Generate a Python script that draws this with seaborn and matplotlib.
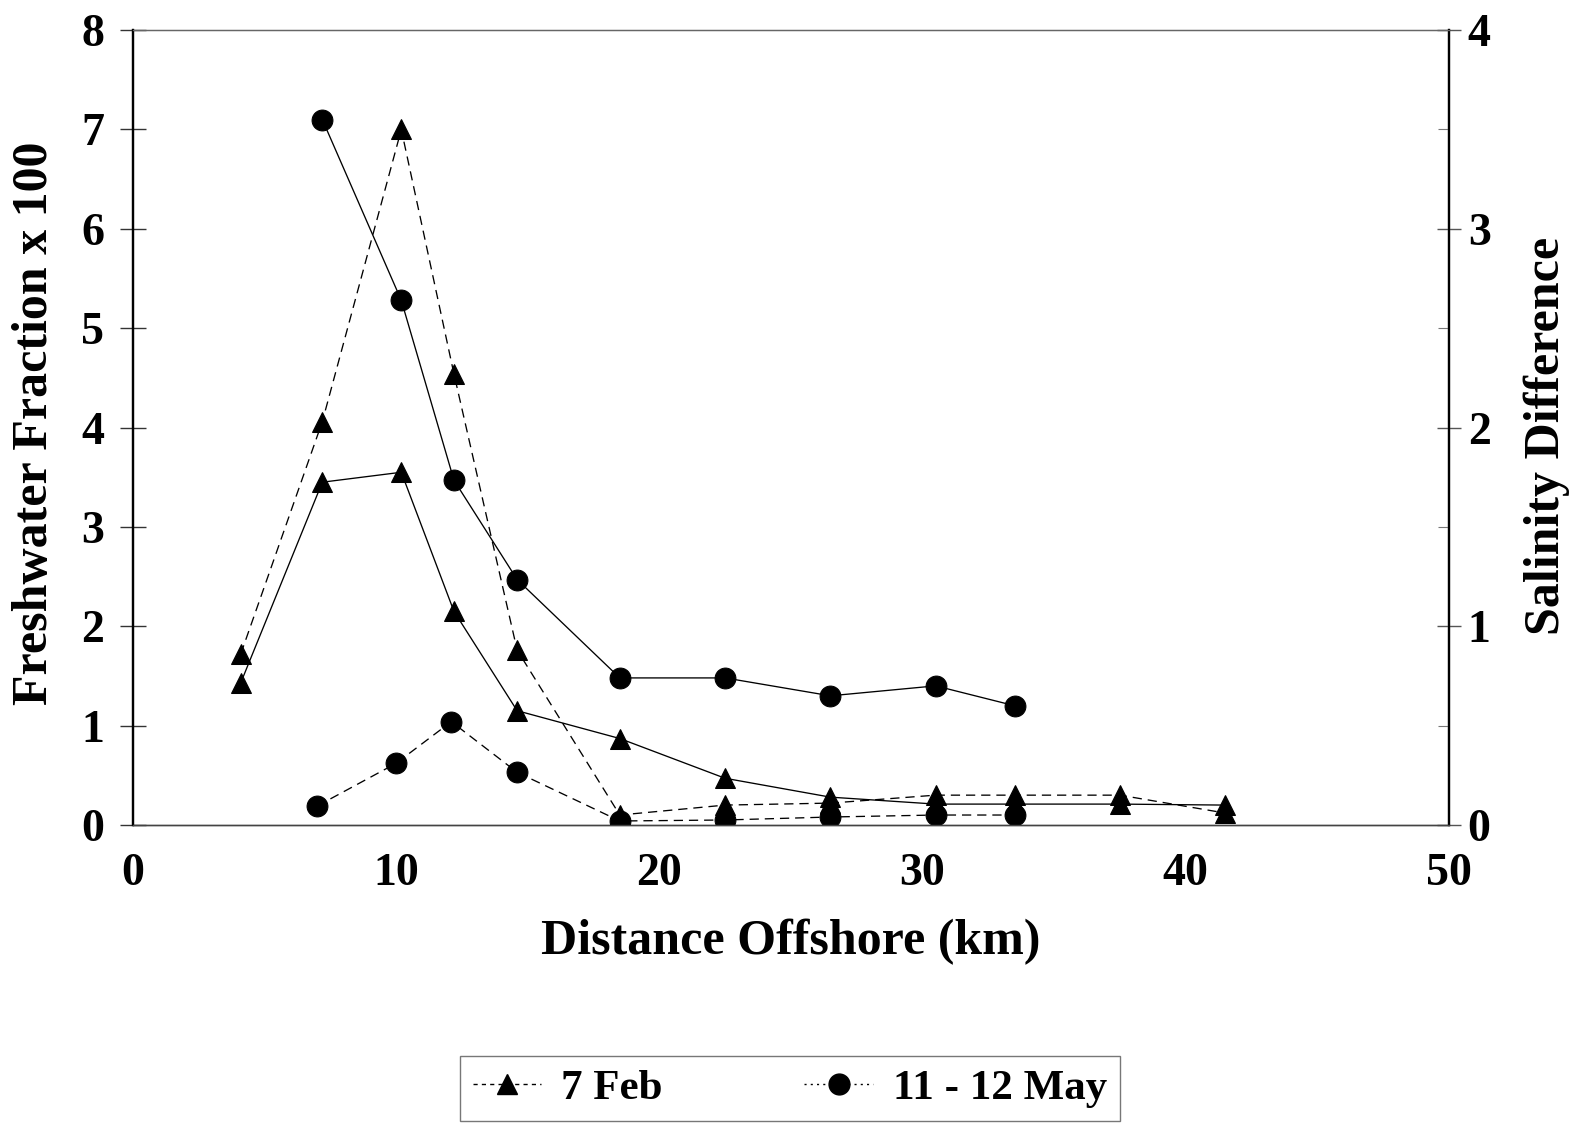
import matplotlib
matplotlib.use("Agg")
import matplotlib.pyplot as plt
from matplotlib.lines import Line2D
from matplotlib.ticker import MultipleLocator
import seaborn as sns
import pandas as pd

# ---- data ----
feb_x = [4.1, 7.2, 10.2, 12.2, 14.6, 18.5, 22.5, 26.5, 30.5, 33.5, 37.5, 41.5]
feb_fresh = [1.43, 3.45, 3.55, 2.15, 1.15, 0.87, 0.47, 0.28, 0.21, 0.21, 0.21, 0.20]
feb_sal = [0.86, 2.03, 3.50, 2.27, 0.88, 0.05, 0.10, 0.11, 0.15, 0.15, 0.15, 0.06]

may_x = [7.2, 10.2, 12.2, 14.6, 18.5, 22.5, 26.5, 30.5, 33.5]
may_fresh = [7.10, 5.28, 3.47, 2.47, 1.48, 1.48, 1.30, 1.40, 1.20]
may_sal_x = [7.0, 10.0, 12.1, 14.6, 18.5, 22.5, 26.5, 30.5, 33.5]
may_sal = [0.095, 0.31, 0.52, 0.265, 0.02, 0.025, 0.04, 0.05, 0.05]

legend_labels = ["7 Feb", "11 - 12 May"]
x_ticks = [0, 10, 20, 30, 40, 50]

sns.set_style("white")
plt.rcParams["font.family"] = ["Liberation Serif", "DejaVu Serif"]
plt.rcParams["font.weight"] = "bold"
plt.rcParams["text.color"] = "black"
plt.rcParams["axes.labelcolor"] = "black"
plt.rcParams["xtick.labelcolor"] = "black"
plt.rcParams["ytick.labelcolor"] = "black"

fig = plt.figure(figsize=(15.81, 11.29), dpi=100)
ax = fig.add_axes([0.084, 0.2693, 0.8325, 0.704])
ax2 = ax.twinx()

df_feb = pd.DataFrame({"x": feb_x, "fresh": feb_fresh, "sal": feb_sal})
df_may = pd.DataFrame({"x": may_x, "fresh": may_fresh})
df_may_s = pd.DataFrame({"x": may_sal_x, "sal": may_sal})

lw = 0.95
ms_t = 15
ms_c = 15
sns.lineplot(data=df_feb, x="x", y="fresh", ax=ax, estimator=None, sort=False,
             color="black", linewidth=lw, marker="^", markersize=ms_t,
             markeredgecolor="black", linestyle="-")
sns.lineplot(data=df_may, x="x", y="fresh", ax=ax, estimator=None, sort=False,
             color="black", linewidth=lw, marker="o", markersize=ms_c,
             markeredgecolor="black", linestyle="-")
sns.lineplot(data=df_feb, x="x", y="sal", ax=ax2, estimator=None, sort=False,
             color="black", linewidth=lw, marker="^", markersize=ms_t,
             markeredgecolor="black", linestyle=(0, (7, 4.5)))
sns.lineplot(data=df_may_s, x="x", y="sal", ax=ax2, estimator=None, sort=False,
             color="black", linewidth=lw, marker="o", markersize=ms_c,
             markeredgecolor="black", linestyle=(0, (7, 4.5)))

ax.set_xlim(0, 50)
ax.set_ylim(0, 8)
ax2.set_ylim(0, 4)

ax.set_xticks(x_ticks)
ax.xaxis.set_minor_locator(MultipleLocator(5))
ax.yaxis.set_major_locator(MultipleLocator(1))
ax2.yaxis.set_major_locator(MultipleLocator(1))
ax2.yaxis.set_minor_locator(MultipleLocator(0.5))

ax.tick_params(axis="x", which="both", direction="inout", length=20, width=1.2,
               color="black", labelcolor="black", labelsize=33, pad=10, top=False)
ax.tick_params(axis="y", which="major", direction="inout", length=19, width=1.0,
               color="#333333", labelcolor="black", labelsize=33, pad=11)
ax2.tick_params(axis="y", which="major", direction="inout", length=17, width=1.0,
                color="#555555", labelcolor="black", labelsize=33, pad=5)
ax2.tick_params(axis="y", which="minor", direction="in", length=8, width=0.8,
                color="#777777")

for a in (ax, ax2):
    for lab in a.get_xticklabels() + a.get_yticklabels():
        lab.set_fontweight("bold")

for a in (ax, ax2):
    a.spines["top"].set_color("#666666")
    a.spines["top"].set_linewidth(0.9)
    a.spines["left"].set_color("black")
    a.spines["left"].set_linewidth(1.6)
    a.spines["right"].set_color("black")
    a.spines["right"].set_linewidth(1.6)
    a.spines["bottom"].set_color("#444444")
    a.spines["bottom"].set_linewidth(1.0)

ax.set_xlabel("Distance Offshore (km)", fontsize=36, fontweight="bold", color="black")
ax.set_ylabel("Freshwater Fraction x 100", fontsize=36, fontweight="bold", color="black")
ax2.set_ylabel("Salinity Difference", fontsize=36, fontweight="bold", color="black")
ax.xaxis.set_label_coords(0.5, -0.118)
ax.yaxis.set_label_coords(-0.057, 0.505)
ax2.yaxis.set_label_coords(1.057, 0.49)

handles = [
    Line2D([], [], color="black", linewidth=1.0, linestyle=(0, (3, 3)),
           marker="^", markersize=ms_t),
    Line2D([], [], color="black", linewidth=1.0, linestyle=(0, (1.5, 3)),
           marker="o", markersize=ms_c),
]
leg = fig.legend(handles, legend_labels, loc="lower center",
                 bbox_to_anchor=(0.4995, 0.007), ncol=2, frameon=True,
                 fancybox=False, edgecolor="#555555",
                 handlelength=1.6, columnspacing=3.3, borderpad=0.3,
                 borderaxespad=0.0, handletextpad=0.45,
                 prop={"weight": "bold", "size": 31})
leg.get_frame().set_linewidth(1.0)
for t in leg.get_texts():
    t.set_color("black")

fig.savefig("out.png", dpi=100)
